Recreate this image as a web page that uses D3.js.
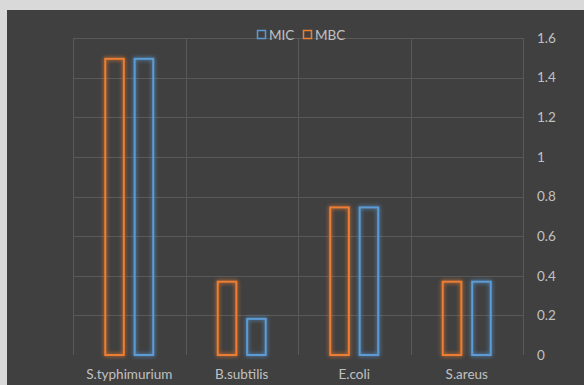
<!DOCTYPE html>
<html><head><meta charset="utf-8">
<script src="https://cdn.jsdelivr.net/npm/d3@7"></script>
<style>html,body{margin:0;padding:0;background:#fff;}svg{display:block;}</style>
</head><body>
<script>
const categories = ["S.typhimurium", "B.subtilis", "E.coli", "S.areus"];
const seriesNames = ["MBC", "MIC"];
const mbcValues = [1.5, 0.375, 0.75, 0.375];
const micValues = [1.5, 0.1875, 0.75, 0.375];
const yTicks = [0, 0.2, 0.4, 0.6, 0.8, 1, 1.2, 1.4, 1.6];
const legendOrder = ["MIC", "MBC"];
const colors = {MIC: "#5B9BD5", MBC: "#ED7D31"};

const W = 584, H = 385;
const svg = d3.select("body").append("svg").attr("width", W).attr("height", H);

svg.append("rect").attr("x",0).attr("y",0).attr("width",W).attr("height",H).attr("fill","#d9d9d9");
svg.append("rect").attr("x",7).attr("y",10).attr("width",W-7).attr("height",H-10).attr("fill","#404040");

const defs = svg.append("defs");
const f = defs.append("filter").attr("id","glow").attr("x","-50%").attr("y","-50%").attr("width","200%").attr("height","200%");
f.append("feGaussianBlur").attr("in","SourceGraphic").attr("stdDeviation",2.2).attr("result","b");
const m = f.append("feMerge");
m.append("feMergeNode").attr("in","b");
m.append("feMergeNode").attr("in","SourceGraphic");

const plot = {left: 73, right: 523, top: 38, bottom: 355};
const x = d3.scaleBand().domain(categories).range([plot.left, plot.right]).paddingInner(0).paddingOuter(0);
const y = d3.scaleLinear().domain([0, 1.6]).range([plot.bottom, plot.top]);

const font = "Lato, 'Open Sans', sans-serif";
const fs = "13.5px";
const textColor = "#c0c0c0";
const gridColor = "#595959";

svg.append("g").selectAll("line").data(yTicks.filter(d=>d>0)).join("line")
  .attr("x1", plot.left).attr("x2", plot.right)
  .attr("y1", d=>Math.round(y(d))+0.5).attr("y2", d=>Math.round(y(d))+0.5)
  .attr("stroke", gridColor).attr("stroke-width",1);
const bounds = categories.map(c=>x(c)).concat([plot.right]);
svg.append("g").selectAll("line").data(bounds).join("line")
  .attr("x1", d=>Math.round(d)+0.5).attr("x2", d=>Math.round(d)+0.5)
  .attr("y1", plot.top).attr("y2", plot.bottom)
  .attr("stroke", gridColor).attr("stroke-width",1);

const yAxis = d3.axisRight(y).tickValues(yTicks).tickSize(0).tickPadding(0).tickFormat(d=>String(d));
const ya = svg.append("g").attr("transform", `translate(537,0)`).call(yAxis);
ya.select(".domain").remove();
ya.selectAll("text").attr("fill",textColor).attr("font-family",font).attr("font-size",fs).attr("text-anchor","start");

const xAxis = d3.axisBottom(x).tickSize(0).tickPadding(0);
const xa = svg.append("g").attr("transform", `translate(0,369)`).call(xAxis);
xa.select(".domain").remove();
xa.selectAll("text").attr("fill",textColor).attr("font-family",font).attr("font-size",fs);

const inner = d3.scaleBand().domain(seriesNames).range([-25, 25]).paddingInner(0.3).paddingOuter(0);
const data = [];
categories.forEach((c,i)=>{
  data.push({cat:c, s:"MBC", v:mbcValues[i]});
  data.push({cat:c, s:"MIC", v:micValues[i]});
});
svg.append("g").attr("filter","url(#glow)").selectAll("rect").data(data).join("rect")
  .attr("x", d=>x(d.cat)+x.bandwidth()/2+inner(d.s)+1)
  .attr("y", d=>y(d.v)+1)
  .attr("width", inner.bandwidth()-2)
  .attr("height", d=>y(0)-y(d.v)-1)
  .attr("fill","none")
  .attr("stroke", d=>colors[d.s])
  .attr("stroke-width",2);

const lg = svg.append("g").attr("transform","translate(257,30)");
let lx = 0;
legendOrder.forEach(n=>{
  const g = lg.append("g").attr("transform",`translate(${lx},0)`);
  g.append("rect").attr("x",0.5).attr("y",0.5).attr("width",8).attr("height",8)
    .attr("fill","none").attr("stroke",colors[n]).attr("stroke-width",1.5);
  g.append("text").attr("x",12).attr("y",9.5).text(n)
    .attr("fill",textColor).attr("font-family",font).attr("font-size",fs);
  lx += 46;
});
</script>
</body></html>
